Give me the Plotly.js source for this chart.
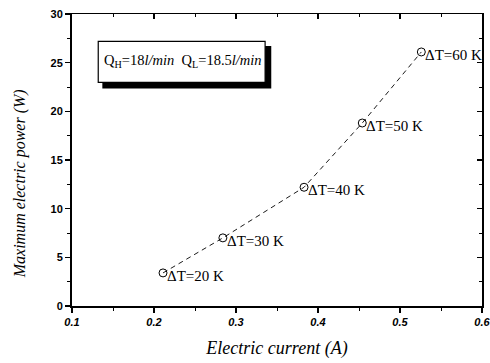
<!DOCTYPE html>
<html>
<head>
<meta charset="utf-8">
<script src="https://cdn.plot.ly/plotly-3.0.1.min.js"></script>
<style>html,body{margin:0;padding:0;background:#fff;}#chart{width:490px;height:363px;}</style>
</head>
<body>
<div id="chart"></div>
<script>
var current = [0.211, 0.284, 0.383, 0.454, 0.526];
var power = [3.4, 7.0, 12.2, 18.8, 26.1];
var labels = ['ΔT=20 K', 'ΔT=30 K', 'ΔT=40 K', 'ΔT=50 K', 'ΔT=60 K'];
var xTicks = [0.1, 0.2, 0.3, 0.4, 0.5, 0.6];
var xTickText = ['0.1', '0.2', '0.3', '0.4', '0.5', '0.6'];
var yTicks = [0, 5, 10, 15, 20, 25, 30];

var serif = 'Liberation Serif, Times New Roman, serif';
var sans = 'Liberation Sans, Arial, sans-serif';

var trace = {
  x: current, y: power, type: 'scatter', mode: 'lines+markers',
  line: {color: '#000', width: 0.9, dash: '5px,4px'},
  marker: {symbol: 'circle-open', size: 8, color: '#000', line: {width: 1, color: '#000'}},
  hoverinfo: 'none', showlegend: false
};
var dummy = {x: [0.1], y: [0], xaxis: 'x2', yaxis: 'y2', mode: 'markers',
  marker: {opacity: 0}, showlegend: false, hoverinfo: 'none'};

var annotations = labels.map(function (t, i) {
  return {x: current[i], y: power[i], xref: 'x', yref: 'y', text: t, showarrow: false,
    xanchor: 'left', yanchor: 'middle', xshift: 2, yshift: -3,
    font: {family: serif, size: 15, color: '#000'}};
});
annotations.push({
  xref: 'paper', yref: 'paper', x: 0.072, y: 0.84, xanchor: 'left', yanchor: 'middle',
  showarrow: false,
  text: 'Q<sub>H</sub>=18<i>l/min</i>  Q<sub>L</sub>=18.5<i>l/min</i>',
  font: {family: serif, size: 14.5, color: '#000'}
});
annotations.push({
  xref: 'paper', yref: 'paper', x: -0.127, y: 0.42, xanchor: 'center', yanchor: 'middle',
  showarrow: false, textangle: -90,
  text: 'Maximum electric power (W)',
  font: {family: serif, size: 16, color: '#000', style: 'italic'}
});

var layout = {
  width: 490, height: 363,
  margin: {l: 72, r: 8, t: 14, b: 57},
  paper_bgcolor: '#fff', plot_bgcolor: '#fff',
  xaxis: {
    range: [0.1, 0.6], tickvals: xTicks, ticktext: xTickText, ticklabeloverflow: 'allow',
    ticks: 'outside', ticklen: 5, tickwidth: 1.2, tickcolor: '#000',
    minor: {dtick: 0.05, tick0: 0.1, ticks: 'outside', ticklen: 3, tickwidth: 1, tickcolor: '#000'},
    showline: true, linecolor: '#000', linewidth: 2, showgrid: false, zeroline: false,
    tickfont: {family: sans, size: 11, color: '#000', weight: 'bold', style: 'italic'},
    title: {text: 'Electric current (A)', font: {family: serif, size: 18, color: '#000', style: 'italic'}, standoff: 14}
  },
  yaxis: {
    range: [0, 30], tickvals: yTicks, ticklabeloverflow: 'allow',
    ticks: 'outside', ticklen: 5, tickwidth: 1.2, tickcolor: '#000',
    minor: {dtick: 2.5, tick0: 0, ticks: 'outside', ticklen: 3, tickwidth: 1, tickcolor: '#000'},
    showline: true, linecolor: '#000', linewidth: 2, showgrid: false, zeroline: false,
    tickfont: {family: sans, size: 11, color: '#000', weight: 'bold'}
  },
  xaxis2: {
    overlaying: 'x', side: 'top', range: [0.1, 0.6], tickvals: xTicks, showticklabels: false,
    ticks: 'inside', ticklen: 5, tickwidth: 1.2, tickcolor: '#000',
    minor: {dtick: 0.05, tick0: 0.1, ticks: 'inside', ticklen: 3, tickwidth: 1, tickcolor: '#000'},
    showline: true, linecolor: '#000', linewidth: 1.5, showgrid: false, zeroline: false
  },
  yaxis2: {
    overlaying: 'y', side: 'right', range: [0, 30], tickvals: yTicks, showticklabels: false,
    ticks: 'inside', ticklen: 5, tickwidth: 1.2, tickcolor: '#000',
    minor: {dtick: 2.5, tick0: 0, ticks: 'inside', ticklen: 3, tickwidth: 1, tickcolor: '#000'},
    showline: true, linecolor: '#000', linewidth: 1.5, showgrid: false, zeroline: false
  },
  shapes: [
    {type: 'rect', xref: 'paper', yref: 'paper', x0: 0.074, x1: 0.486, y0: 0.745, y1: 0.89,
      fillcolor: '#000', line: {width: 0}, layer: 'above'},
    {type: 'rect', xref: 'paper', yref: 'paper', x0: 0.064, x1: 0.471, y0: 0.766, y1: 0.906,
      fillcolor: '#fff', line: {width: 1.2, color: '#000'}, layer: 'above'}
  ],
  annotations: annotations
};

Plotly.newPlot('chart', [trace, dummy], layout, {displayModeBar: false, staticPlot: true});
</script>
</body>
</html>
